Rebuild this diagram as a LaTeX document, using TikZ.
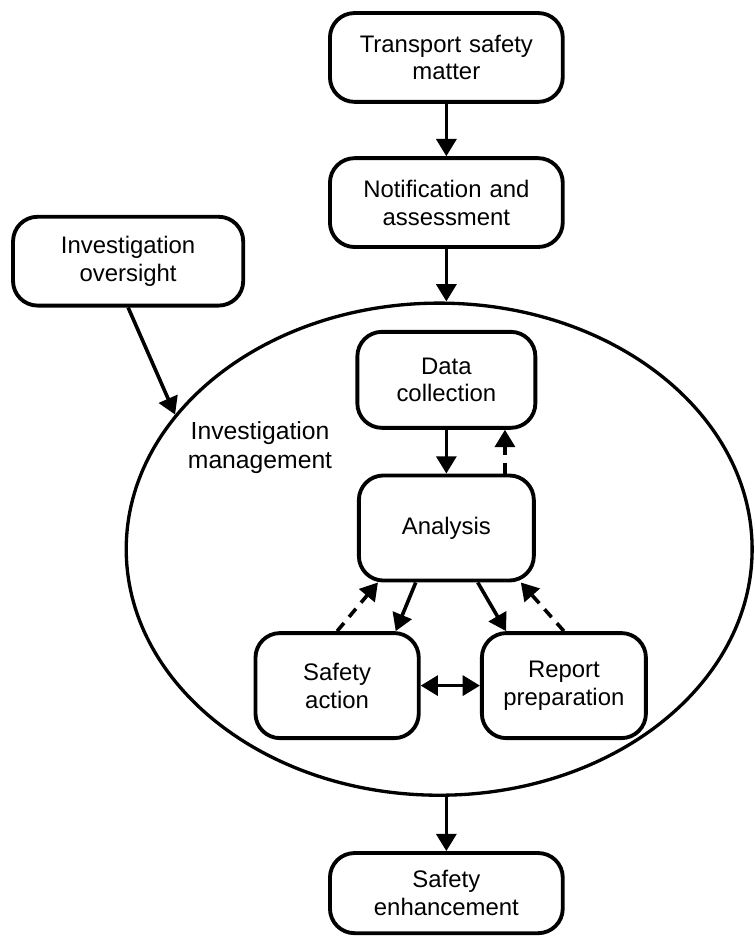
\documentclass[tikz,border=0pt]{standalone}
\usepackage{fontspec}
\setmainfont{Liberation Sans}
\usepackage{tikz}
\usetikzlibrary{shapes,arrows.meta,positioning}
\tikzstyle{stagebox} = [draw, fill=white, text centered, text width=5.6cm, minimum width=6.16cm, minimum height=2.35cm, rounded corners=0.65cm, line width=2.9pt, font=\fontsize{18}{21}\selectfont]
\tikzstyle{phasebox} = [draw, fill=white, text centered, text width=4cm, minimum width=4.63cm, minimum height=2.78cm, rounded corners=0.65cm, line width=2.9pt, font=\fontsize{18}{21}\selectfont]
\tikzstyle{mgmtregion} = [draw, ellipse, minimum width=16.56cm, minimum height=13.02cm, inner sep=0pt, line width=2.5pt]
\tikzstyle{mgmttext} = [text centered, text width=4.5cm, font=\fontsize{18.6}{22}\selectfont]
\tikzstyle{arrow} = [draw, line width=2.7pt, -{Triangle[length=13pt,width=15pt]}]
\tikzstyle{dasharrow} = [draw, line width=2.7pt, dash pattern=on 8pt off 6pt, -{Triangle[length=13pt,width=15pt]}]
\tikzstyle{twoway} = [draw, line width=2.7pt, {Triangle[length=13pt,width=15pt]}-{Triangle[length=13pt,width=15pt]}]
\newcommand{\stagebox}[3]{node (s#1) [stagebox,#2] {#3}}
\newcommand{\phasebox}[3]{node (p#1) [phasebox,#2] {#3}}

\begin{document}
\begin{tikzpicture}
\useasboundingbox (-11.81,1.52) rectangle (8.166,-23.245);
\path \stagebox{1}{}{Transport safety\\matter};
\path (s1)+(0,-3.84) \stagebox{2}{}{Notification and\\assessment};
\path [arrow] (s1.south) -- (s2.north) node[] {};
\path (s1)+(-8.42,-5.39) \stagebox{3}{minimum width=6.09cm}{Investigation\\oversight};

\path (s1)+(-0.19,-13.01) node (im) [mgmtregion] {};
\path (s1)+(-4.93,-10.33) node (iml) [mgmttext] {Investigation\\management};
\path [arrow] (s2.south) -- (s2.south |- im.north) node[] {};
\path [arrow] (s3.south) -- (im.153) node[] {};

\path (s2)+(0,-4.69) \phasebox{1}{minimum width=4.71cm, minimum height=2.54cm}{Data\\collection};
\path (p1)+(0,-3.92) \phasebox{2}{}{Analysis};
\path [arrow] (p1.south) -- (p2.north) node[] {};
\path [dasharrow] ([xshift=1.55cm]p2.north) -- ([xshift=1.55cm]p1.south) node[] {};

\path (p2)+(-2.89,-4.17) \phasebox{3}{minimum width=4.32cm}{Safety\\action};
\path (p2)+(3.11,-4.17) \phasebox{4}{minimum width=4.34cm}{Report\\preparation};
\path [arrow] ([xshift=-0.81cm]p2.south) -- ([xshift=1.55cm]p3.north) node[] {};
\path [dasharrow] (p3.north) -- ([xshift=-1.81cm]p2.south) node[] {};
\path [arrow] ([xshift=0.83cm]p2.south) -- ([xshift=-1.53cm]p4.north) node[] {};
\path [dasharrow] (p4.north) -- ([xshift=1.97cm]p2.south) node[] {};
\path [twoway] (p3.east) -- (p4.west) node[] {};

\path (s1)+(0,-22.11) \stagebox{4}{minimum height=2.12cm}{Safety\\enhancement};
\path [arrow] (s4.north |- im.south) -- (s4.north) node[] {};
\end{tikzpicture}
\end{document}
